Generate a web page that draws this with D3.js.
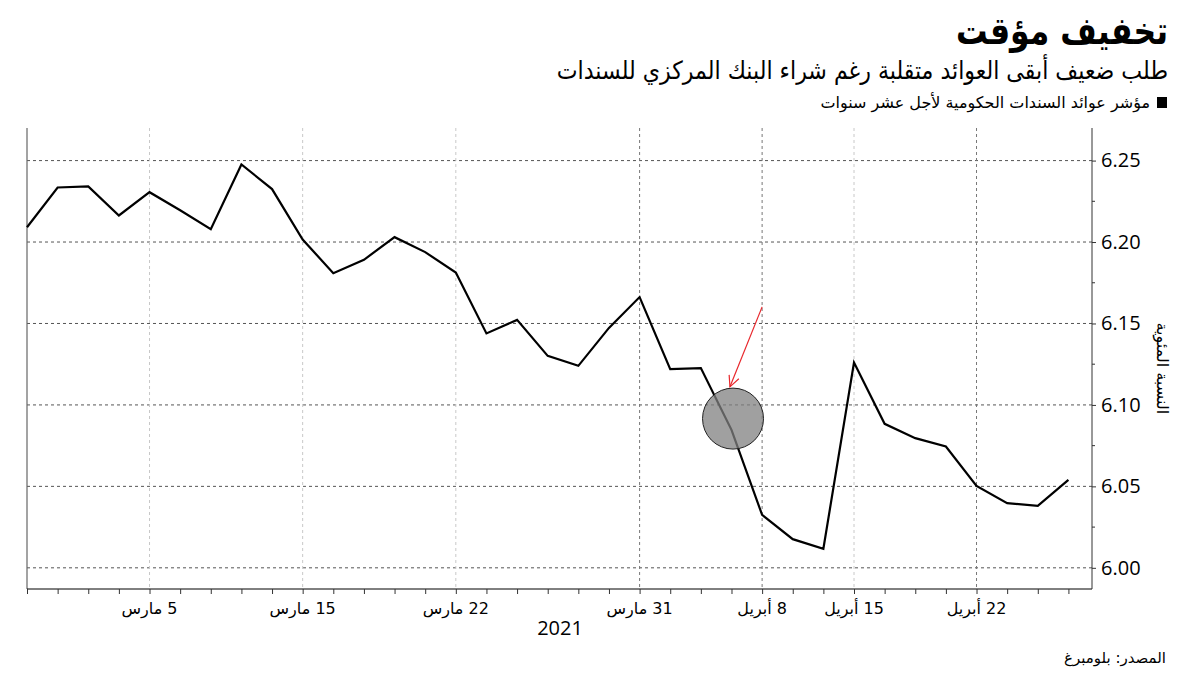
<!DOCTYPE html>
<html>
<head>
<meta charset="utf-8">
<script src="https://cdn.jsdelivr.net/npm/d3@7"></script>
<style>
  html, body { margin: 0; padding: 0; background: #fff; }
  svg { display: block; }
  .ar { font-family: "DejaVu Sans", sans-serif; }
</style>
</head>
<body>
<svg id="chart" width="1202" height="676"></svg>
<script>
// ---------- DATA ----------
const dayIndex = d3.range(35); // trading days, 1 Mar 2021 .. 27 Apr 2021
const yields = [
  6.2091, 6.2335, 6.2341, 6.2163, 6.2306, 6.2195, 6.2079, 6.2476, 6.2325, 6.2015,
  6.1809, 6.1891, 6.2030, 6.1938, 6.1813, 6.1439, 6.1522, 6.1301, 6.1240, 6.1473,
  6.1662, 6.1220, 6.1226, 6.0847, 6.0325, 6.0176, 6.0117, 6.1260, 6.0884, 6.0796,
  6.0745, 6.0503, 6.0397, 6.0381, 6.0540
];
const tickIdx = [4, 9, 14, 20, 24, 27, 31];
const tickLabels = ["5 مارس", "15 مارس", "22 مارس", "31 مارس", "8 أبريل", "15 أبريل", "22 أبريل"];
const yTicks = [6.00, 6.05, 6.10, 6.15, 6.20, 6.25];
const yMinorTicks = [6.025, 6.075, 6.125, 6.175, 6.225];
const yDomain = [5.987, 6.270];
const xDomain = [0, 34.77];
const yearLabel = "2021";
const title = "تخفيف مؤقت";
const subtitle = "طلب ضعيف أبقى العوائد متقلبة رغم شراء البنك المركزي للسندات";
const legendLabel = "مؤشر عوائد السندات الحكومية لأجل عشر سنوات";
const yAxisTitle = "النسبة المئوية";
const sourceLabel = "المصدر: بلومبرغ";
// annotation: highlight circle and arrow (index, value)
const circleAt = [23.05, 6.0916];
const arrowFrom = [24.0, 6.1602];
const arrowTo = [22.95, 6.1111];

// ---------- LAYOUT ----------
const L = 27, R = 1092, T = 128, B = 589;
const svg = d3.select("#chart");

const x = d3.scaleLinear().domain(xDomain).range([L, R]);
const y = d3.scaleLinear().domain(yDomain).range([B, T]);

// horizontal gridlines
svg.append("g").selectAll("line").data(yTicks).join("line")
  .attr("x1", L).attr("x2", R)
  .attr("y1", d => y(d)).attr("y2", d => y(d))
  .attr("stroke", "#555").attr("stroke-width", 1).attr("stroke-dasharray", "3,3");

// vertical gridlines
svg.append("g").selectAll("line").data(tickIdx).join("line")
  .attr("x1", d => x(d)).attr("x2", d => x(d))
  .attr("y1", T).attr("y2", B)
  .attr("stroke", d => (d === 20 || d === 24 || d === 31) ? "#777" : "#c8c8c8")
  .attr("stroke-width", 1).attr("stroke-dasharray", "3,3");

// left frame line
svg.append("line").attr("x1", L).attr("x2", L).attr("y1", T).attr("y2", B)
  .attr("stroke", "#666").attr("stroke-width", 1.2);

// bottom axis
const xAxis = d3.axisBottom(x).tickValues(dayIndex).tickSize(5).tickFormat("");
const gx = svg.append("g").attr("transform", `translate(0,${B})`).call(xAxis);
gx.select(".domain").attr("stroke", "#000").attr("d", `M${L},0H${R}`);
gx.selectAll(".tick line").attr("stroke", "#333");

// x labels
svg.append("g").selectAll("text").data(tickIdx).join("text")
  .attr("class", "ar")
  .attr("x", d => x(d)).attr("y", 614)
  .attr("text-anchor", "middle")
  .attr("direction", "rtl")
  .style("direction", "rtl")
  .style("unicode-bidi", "embed")
  .attr("font-size", 16)
  .attr("fill", "#000")
  .text((d, i) => tickLabels[i]);

svg.append("text")
  .attr("x", 560).attr("y", 635)
  .attr("text-anchor", "middle")
  .attr("font-family", "Open Sans, sans-serif")
  .attr("font-size", 20).attr("fill", "#000")
  .text(yearLabel);

// right axis
const yAxis = d3.axisRight(y).tickValues(yTicks).tickSize(4).tickPadding(5)
  .tickFormat(d3.format(".2f"));
const gy = svg.append("g").attr("transform", `translate(${R},0)`).call(yAxis);
gy.select(".domain").attr("stroke", "#333").attr("d", `M0,${T}V${B}`);
gy.selectAll(".tick line").attr("stroke", "#333");
gy.selectAll(".tick text")
  .attr("font-family", "Open Sans, sans-serif")
  .attr("font-size", 20).attr("fill", "#000");

svg.append("g").attr("transform", `translate(${R},0)`)
  .selectAll("line").data(yMinorTicks).join("line")
  .attr("x1", 0).attr("x2", 3)
  .attr("y1", d => y(d)).attr("y2", d => y(d))
  .attr("stroke", "#333");

// y-axis title
svg.append("text")
  .attr("class", "ar")
  .attr("transform", `translate(1157, ${y(6.1225)}) rotate(90)`)
  .attr("text-anchor", "middle")
  .attr("font-size", 16).attr("fill", "#000")
  .text(yAxisTitle);

// line
const line = d3.line().x((d, i) => x(dayIndex[i])).y(d => y(d));
svg.append("path").datum(yields)
  .attr("d", line)
  .attr("fill", "none").attr("stroke", "#000").attr("stroke-width", 2.2)
  .attr("stroke-linejoin", "miter");

// annotation circle
svg.append("circle")
  .attr("cx", x(circleAt[0])).attr("cy", y(circleAt[1])).attr("r", 30.5)
  .attr("fill", "#808080").attr("fill-opacity", 0.75)
  .attr("stroke", "#222").attr("stroke-width", 1);

// arrow
const ax1 = x(arrowFrom[0]), ay1 = y(arrowFrom[1]);
const ax2 = x(arrowTo[0]), ay2 = y(arrowTo[1]);
svg.append("line").attr("x1", ax1).attr("y1", ay1).attr("x2", ax2).attr("y2", ay2)
  .attr("stroke", "#e8262b").attr("stroke-width", 1.2);
const ang = Math.atan2(ay2 - ay1, ax2 - ax1);
const hl = 12, ha = 0.45;
svg.append("path")
  .attr("d", `M${ax2 - hl * Math.cos(ang - ha)},${ay2 - hl * Math.sin(ang - ha)}L${ax2},${ay2}L${ax2 - hl * Math.cos(ang + ha)},${ay2 - hl * Math.sin(ang + ha)}`)
  .attr("fill", "none").attr("stroke", "#e8262b").attr("stroke-width", 1.2);

// titles (horizontally condensed to match the reference's narrow face)
svg.append("text").attr("class", "ar")
  .attr("transform", "translate(1168,44) scale(0.83,1)")
  .attr("x", 0).attr("y", 0)
  .attr("text-anchor", "end")
  .attr("font-size", 38).attr("font-weight", "bold").attr("fill", "#000")
  .text(title);

svg.append("text").attr("class", "ar")
  .attr("transform", "translate(1168,79) scale(0.885,1)")
  .attr("x", 0).attr("y", 0)
  .attr("text-anchor", "end")
  .attr("font-size", 25).attr("fill", "#000")
  .text(subtitle);

// legend
svg.append("rect").attr("x", 1157).attr("y", 97).attr("width", 10).attr("height", 11)
  .attr("fill", "#000");
svg.append("text").attr("class", "ar")
  .attr("x", 1150).attr("y", 108)
  .attr("text-anchor", "end")
  .attr("font-size", 16).attr("fill", "#000")
  .text(legendLabel);

// source
svg.append("text").attr("class", "ar")
  .attr("x", 1166).attr("y", 663)
  .attr("text-anchor", "end")
  .attr("font-size", 15).attr("fill", "#000")
  .text(sourceLabel);
</script>
</body>
</html>
